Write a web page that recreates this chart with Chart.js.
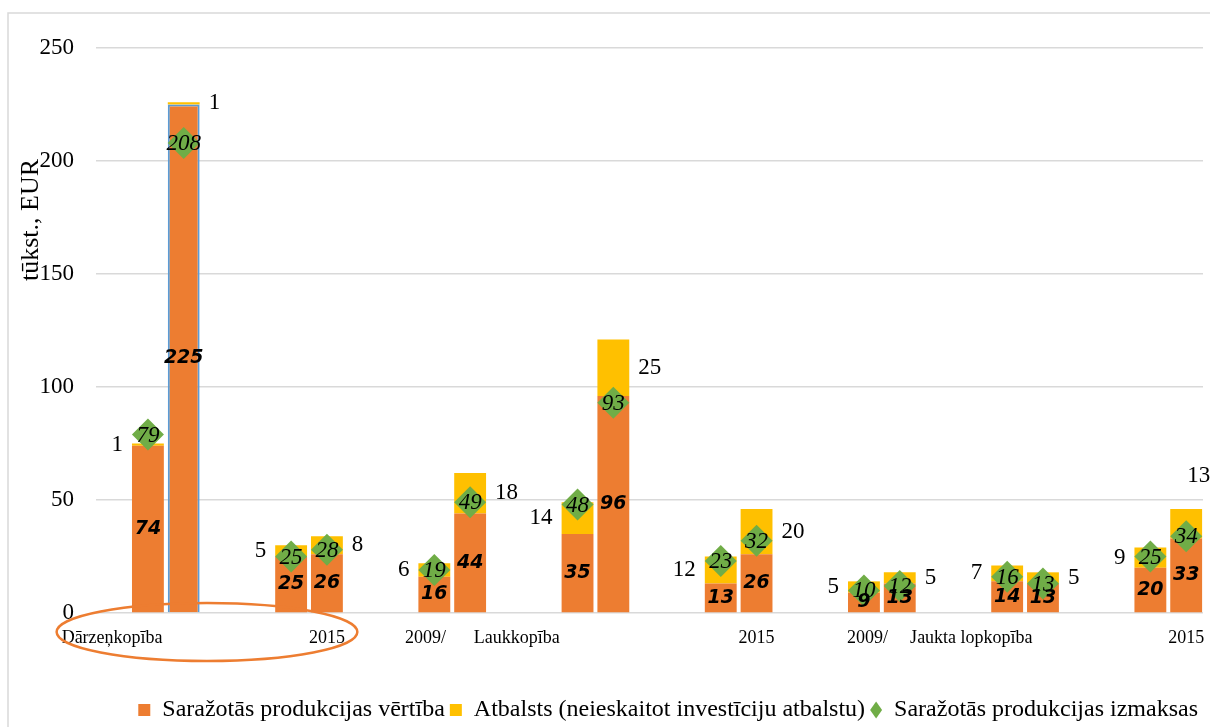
<!DOCTYPE html>
<html>
<head>
<meta charset="utf-8">
<script src="https://cdn.jsdelivr.net/npm/chart.js@4.4.1/dist/chart.umd.min.js"></script>
<style>
  html, body { margin: 0; padding: 0; background: #fff; }
  #wrap { width: 1210px; height: 727px; }
</style>
</head>
<body>
<div id="wrap"><canvas id="chart" width="1210" height="727"></canvas></div>
<script>
// two bars per group, groups sit four slots apart on the x axis
const slots = [0, 1, 4, 5, 8, 9, 12, 13, 16, 17, 20, 21, 24, 25, 28, 29];
const productionValue = [74, 225, 25, 26, 16, 44, 35, 96, 13, 26, 9, 13, 14, 13, 20, 33];
const support = [1, 1, 5, 8, 6, 18, 14, 25, 12, 20, 5, 5, 7, 5, 9, 13];
const productionCost = [79, 208, 25, 28, 19, 49, 48, 93, 23, 32, 10, 12, 16, 13, 25, 34];

const xLabels = ["Dārzeņkopība", "2015", "2009/", "Laukkopība", "2015", "2009/", "Jaukta lopkopība", "2015"];
const xLabelSlots = [-1, 5, 7.75, 10.3, 17, 20.1, 23, 29];
const yTicks = [0, 50, 100, 150, 200, 250];

const serif = "'Liberation Serif', 'Times New Roman', serif";

// value labels, y title, frame and the highlight ellipse
const extras = {
  id: 'extras',
  beforeDraw(chart) {
    const ctx = chart.ctx;
    ctx.save();
    ctx.strokeStyle = '#D9D9D9';
    ctx.lineWidth = 1.5;
    ctx.beginPath();
    ctx.moveTo(8, chart.height);
    ctx.lineTo(8, 13);
    ctx.lineTo(chart.width, 13);
    ctx.stroke();
    ctx.restore();
  },
  afterDatasetsDraw(chart) {
    const ctx = chart.ctx;
    const orange = chart.getDatasetMeta(0).data;
    const yellow = chart.getDatasetMeta(1).data;
    const diamonds = chart.getDatasetMeta(2).data;
    const x = chart.scales.x;

    ctx.save();
    // ellipse round the first group's labels
    ctx.strokeStyle = '#ED7D31';
    ctx.lineWidth = 2.5;
    ctx.beginPath();
    ctx.ellipse(x.getPixelForValue(1.65), chart.chartArea.bottom + 19,
      x.getPixelForValue(5.85) - x.getPixelForValue(1.65), 29, 0, 0, Math.PI * 2);
    ctx.stroke();

    ctx.fillStyle = '#000';
    ctx.textBaseline = 'middle';
    ctx.font = `23px ${serif}`;
    yellow.forEach((bar, i) => {
      const half = bar.width / 2;
      const midY = (bar.y + bar.base) / 2;
      if (i === yellow.length - 1) {
        // no room on the right: goes above the bar
        ctx.textAlign = 'left';
        ctx.fillText(support[i], bar.x + 1, bar.y - 33);
      } else if (i % 2 === 0) {
        ctx.textAlign = 'right';
        ctx.fillText(support[i], bar.x - half - 9, midY);
      } else {
        ctx.textAlign = 'left';
        ctx.fillText(support[i], bar.x + half + 9, midY);
      }
    });

    ctx.textAlign = 'center';
    ctx.font = `italic 23px ${serif}`;
    diamonds.forEach((p, i) => ctx.fillText(productionCost[i], p.x, p.y + 1));

    ctx.font = "italic bold 19px 'DejaVu Sans', sans-serif";
    orange.forEach((bar, i) => ctx.fillText(productionValue[i], bar.x, (bar.y + bar.base) / 2));

    // y axis title
    ctx.font = `26px ${serif}`;
    ctx.translate(31, 220);
    ctx.rotate(-Math.PI / 2);
    ctx.fillText('tūkst., EUR', 0, 0);
    ctx.restore();
  }
};

new Chart(document.getElementById('chart'), {
  data: {
    datasets: [
      {
        type: 'bar',
        label: 'Saražotās produkcijas vērtība',
        data: slots.map((s, i) => ({ x: s, y: productionValue[i] })),
        backgroundColor: '#ED7D31',
        borderColor: slots.map((s, i) => i === 1 ? '#5B9BD5' : 'rgba(0,0,0,0)'),
        borderWidth: slots.map((s, i) => i === 1 ? 2 : 0),
        pointStyle: 'rect',
        stack: 'farm'
      },
      {
        type: 'bar',
        label: 'Atbalsts (neieskaitot investīciju atbalstu)',
        data: slots.map((s, i) => ({ x: s, y: support[i] })),
        backgroundColor: '#FFC000',
        borderWidth: 0,
        pointStyle: 'rect',
        stack: 'farm'
      },
      {
        type: 'line',
        label: 'Saražotās produkcijas izmaksas',
        data: slots.map((s, i) => ({ x: s, y: productionCost[i] })),
        showLine: false,
        pointStyle: 'rectRot',
        pointRadius: 16,
        pointHoverRadius: 16,
        pointBorderWidth: 0,
        backgroundColor: '#70AD47',
        borderColor: '#70AD47',
        stack: 'cost',
        clip: false,
        order: -1
      }
    ]
  },
  options: {
    responsive: false,
    animation: false,
    layout: { autoPadding: false, padding: { top: 48, right: 7, left: 0, bottom: 0 } },
    datasets: { bar: { categoryPercentage: 1, barPercentage: 0.89 } },
    plugins: {
      tooltip: { enabled: false },
      legend: {
        position: 'bottom',
        align: 'end',
        maxHeight: 34,
        labels: {
          usePointStyle: true,
          boxHeight: 12,
          pointStyleWidth: 12,
          padding: 5,
          color: '#000',
          font: { family: serif, size: 24 },
          sort: (a, b) => a.datasetIndex - b.datasetIndex
        }
      }
    },
    scales: {
      x: {
        type: 'linear',
        min: -1.45,
        max: 29.47,
        offset: false,
        bounds: 'data',
        stacked: true,
        grid: { display: false },
        border: { display: false },
        afterBuildTicks: s => { s.ticks = xLabelSlots.map(v => ({ value: v })); },
        afterFit: s => { s.height = 80; s.paddingLeft = 0; s.paddingRight = 0; },
        ticks: {
          autoSkip: false,
          maxRotation: 0,
          padding: 6,
          color: '#000',
          font: { family: serif, size: 18 },
          callback: (v, i) => xLabels[i]
        }
      },
      y: {
        min: 0,
        max: 250,
        stacked: true,
        afterFit: s => { s.width = 96; },
        afterBuildTicks: s => { s.ticks = yTicks.map(v => ({ value: v })); },
        grid: { color: '#D9D9D9', lineWidth: 1.5, drawTicks: false },
        border: { display: false },
        ticks: { padding: 22, color: '#000', font: { family: serif, size: 23 } }
      }
    }
  },
  plugins: [extras]
});
</script>
</body>
</html>
